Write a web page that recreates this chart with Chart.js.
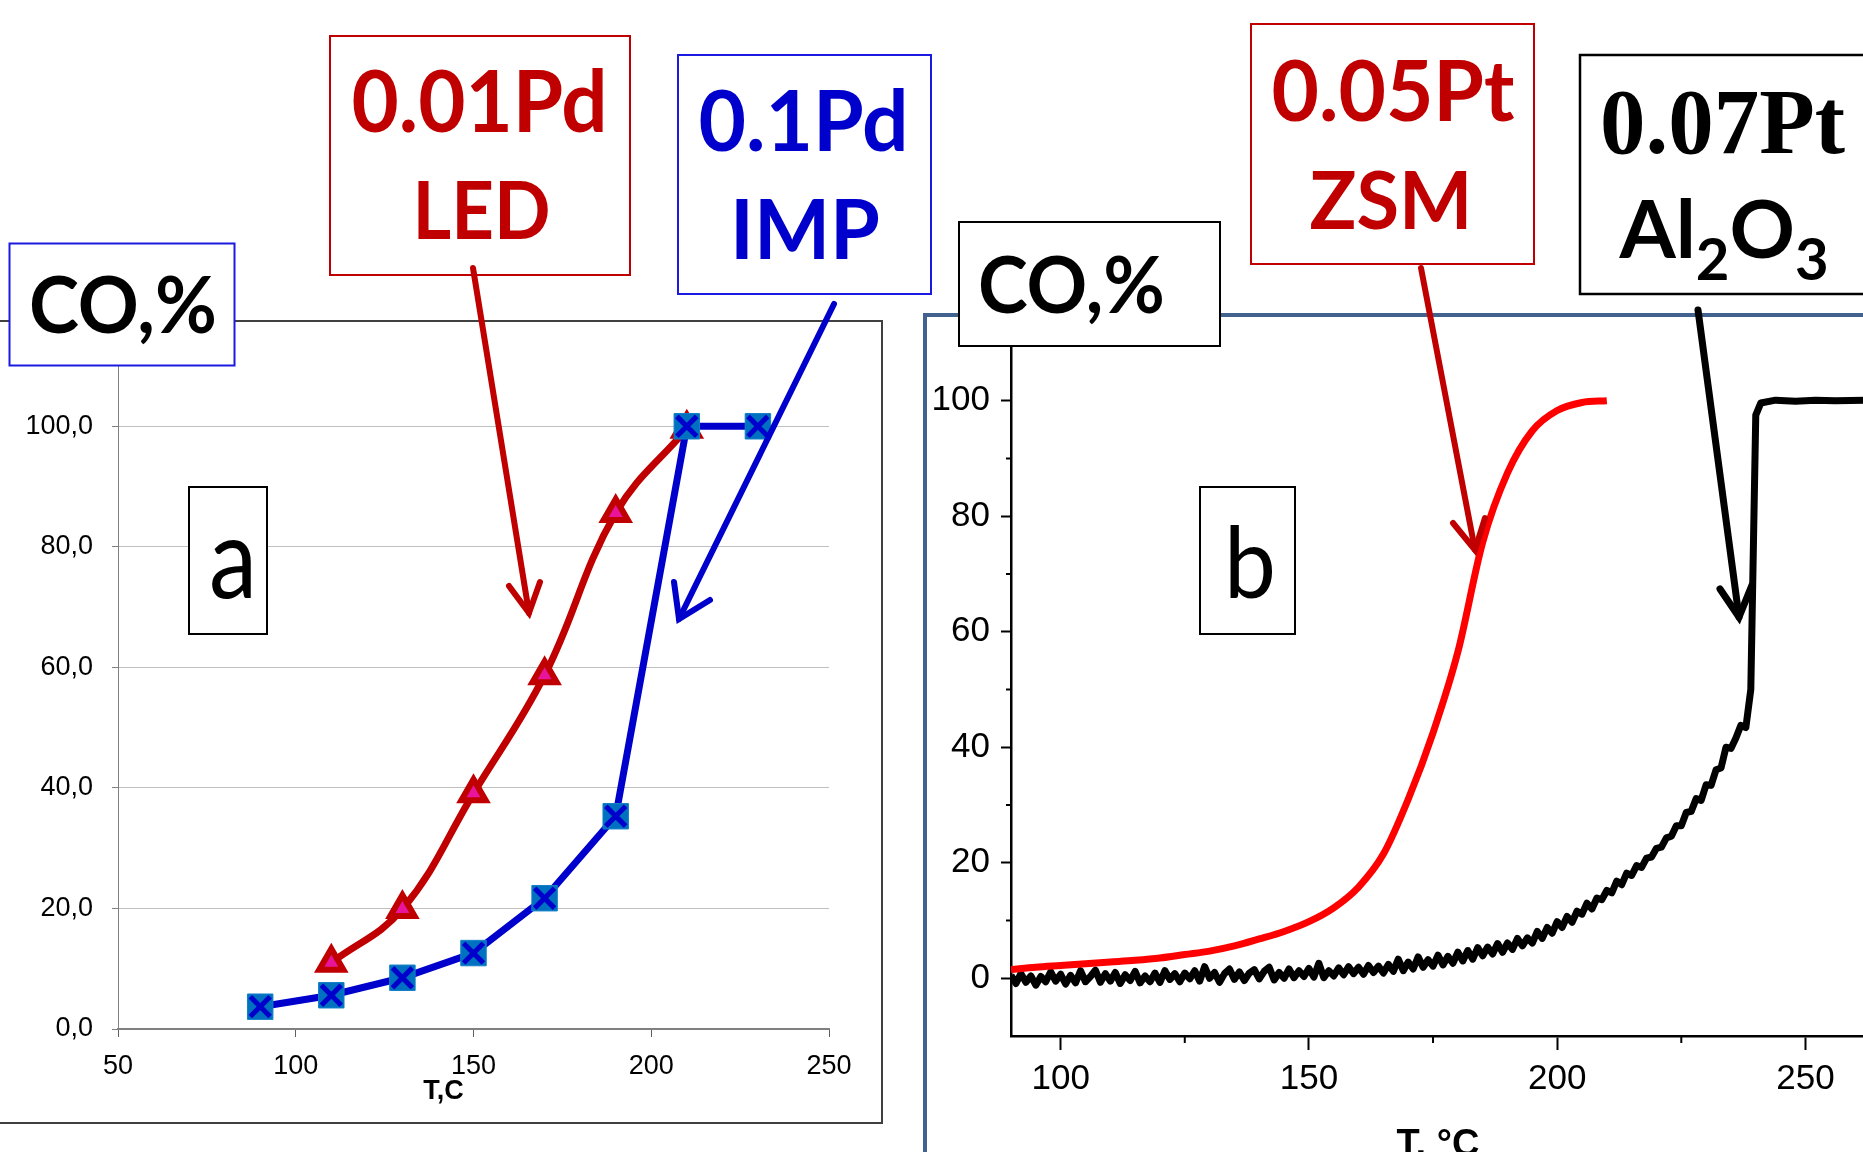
<!DOCTYPE html>
<html>
<head>
<meta charset="utf-8">
<script src="https://cdn.jsdelivr.net/npm/chart.js@4.4.0/dist/chart.umd.min.js"></script>
<style>
  html, body { margin: 0; padding: 0; background: #fff; overflow: hidden; }
  #page { position: relative; width: 1863px; height: 1152px; overflow: hidden; background: #fff; }
  #chartA { position: absolute; left: 0; top: 321px; }
  #chartB { position: absolute; left: 927px; top: 318px; }
  #notes { position: absolute; left: 0; top: 0; pointer-events: none; }
  #notes text { font-family: Lato, "Open Sans", sans-serif; font-weight: bold; }
</style>
</head>
<body>
<div id="page">
  <canvas id="chartA" width="882" height="802"></canvas>
  <canvas id="chartB" width="950" height="900"></canvas>

  <svg id="notes" width="1863" height="1152" xmlns="http://www.w3.org/2000/svg">
    <!-- panel frames -->
    <path d="M-5 321 H882 V1123 H-5" fill="none" stroke="#404040" stroke-width="2"/>
    <path d="M925 1170 V315 H1880" fill="none" stroke="#41618F" stroke-width="4"/>

    <!-- panel a labels -->
    <rect x="9.5" y="243.5" width="225" height="122" fill="#fff" stroke="#1A1AE0" stroke-width="2"/>
    <text x="123" y="333" font-size="78" fill="#000" text-anchor="middle" textLength="188" lengthAdjust="spacingAndGlyphs">CO,%</text>

    <rect x="330" y="36" width="300" height="239" fill="#fff" stroke="#C00000" stroke-width="2"/>
    <text x="479.5" y="132" font-size="86" fill="#C00000" text-anchor="middle" textLength="256" lengthAdjust="spacingAndGlyphs">0.01Pd</text>
    <text x="481.5" y="239" font-size="80" fill="#C00000" text-anchor="middle" textLength="138" lengthAdjust="spacingAndGlyphs">LED</text>

    <rect x="678" y="55" width="253" height="239" fill="#fff" stroke="#1A1AE0" stroke-width="2"/>
    <text x="803.5" y="151" font-size="85" fill="#0000CC" text-anchor="middle" textLength="210" lengthAdjust="spacingAndGlyphs">0.1Pd</text>
    <text x="805" y="259" font-size="82" fill="#0000CC" text-anchor="middle" textLength="150" lengthAdjust="spacingAndGlyphs">IMP</text>

    <rect x="189" y="487" width="78" height="147" fill="#fff" stroke="#000" stroke-width="2"/>
    <text x="233" y="598" font-size="112" fill="#000" style="font-weight:normal" text-anchor="middle" textLength="48" lengthAdjust="spacingAndGlyphs">a</text>

    <!-- panel b labels -->
    <rect x="959" y="222" width="261" height="124" fill="#fff" stroke="#000" stroke-width="2"/>
    <text x="1071.5" y="313" font-size="78" fill="#000" text-anchor="middle" textLength="187" lengthAdjust="spacingAndGlyphs">CO,%</text>

    <rect x="1251" y="24" width="283" height="240" fill="#fff" stroke="#C00000" stroke-width="2"/>
    <text x="1393" y="121" font-size="84" fill="#C00000" text-anchor="middle" textLength="243" lengthAdjust="spacingAndGlyphs">0.05Pt</text>
    <text x="1391" y="229" font-size="80" fill="#C00000" text-anchor="middle" textLength="163" lengthAdjust="spacingAndGlyphs">ZSM</text>

    <rect x="1580" y="55" width="300" height="239" fill="#fff" stroke="#000" stroke-width="2.5"/>
    <text x="1722.5" y="153" font-size="93" fill="#000" style="font-family:'Liberation Serif', serif" text-anchor="middle" textLength="245" lengthAdjust="spacingAndGlyphs">0.07Pt</text>
    <text x="1724" y="258" font-size="81" fill="#000" text-anchor="middle">Al<tspan font-size="58" dy="22">2</tspan><tspan font-size="81" dy="-22">O</tspan><tspan font-size="58" dy="22">3</tspan></text>

    <rect x="1200" y="487" width="95" height="147" fill="#fff" stroke="#000" stroke-width="2"/>
    <text x="1250" y="598" font-size="99" fill="#000" style="font-weight:normal" text-anchor="middle" textLength="52" lengthAdjust="spacingAndGlyphs">b</text>

    <!-- arrows -->
    <g fill="none" stroke-width="6" stroke-linecap="round">
      <line x1="473" y1="268" x2="529" y2="613" stroke="#C00000"/>
      <polyline points="509,586 529,613 540,582" stroke="#C00000"/>
      <line x1="834" y1="304" x2="679" y2="619" stroke="#0000CC"/>
      <polyline points="674,582 679,619 710,600" stroke="#0000CC"/>
      <line x1="1421" y1="268" x2="1475" y2="550" stroke="#C00000"/>
      <polyline points="1453,523 1475,550 1485,518" stroke="#C00000"/>
      <line x1="1698" y1="310" x2="1739" y2="617" stroke="#000" stroke-width="7"/>
      <polyline points="1720,589 1739,617 1752,585" stroke="#000" stroke-width="7"/>
    </g>
  </svg>
</div>

<script>
// panel a: Pd catalysts
var tempA = [90, 110, 130, 150, 170, 190, 210, 230];
var pd01Imp = [3.7, 5.6, 8.5, 12.6, 21.7, 35.3, 100, 100];
var tempLed = [110, 130, 150, 170, 190, 210];
var pd001Led = [11.0, 19.9, 39.1, 58.7, 85.6, 99.6];
var xTicksA = [50, 100, 150, 200, 250];
var yTicksA = [0, 20, 40, 60, 80, 100];

// panel b: Pt catalysts
var tempZsm = [90, 95, 100, 105, 110, 115, 120, 125, 130, 135, 140, 145, 150,
               155, 160, 165, 170, 175, 180, 185, 190, 195, 200, 205, 210];
var pt005Zsm = [1.5, 1.9, 2.2, 2.5, 2.8, 3.1, 3.5, 4.1, 4.7, 5.6, 6.8, 8.1, 9.8,
                12.2, 15.8, 21.5, 31.0, 42.5, 56.5, 75.5, 87.5, 94.8, 98.3, 99.7, 100];

var tempAl = [
  90, 91, 92, 93, 94, 95, 96, 97, 98, 99,
  100, 101, 102, 103, 104, 105, 106, 107, 108, 109,
  110, 111, 112, 113, 114, 115, 116, 117, 118, 119,
  120, 121, 122, 123, 124, 125, 126, 127, 128, 129,
  130, 131, 132, 133, 134, 135, 136, 137, 138, 139,
  140, 141, 142, 143, 144, 145, 146, 147, 148, 149,
  150, 151, 152, 153, 154, 155, 156, 157, 158, 159,
  160, 161, 162, 163, 164, 165, 166, 167, 168, 169,
  170, 171, 172, 173, 174, 175, 176, 177, 178, 179,
  180, 181, 182, 183, 184, 185, 186, 187, 188, 189,
  190, 191, 192, 193, 194, 195, 196, 197, 198, 199,
  200, 201, 202, 203, 204, 205, 206, 207, 208, 209,
  210, 211, 212, 213, 214, 215, 216, 217, 218, 219,
  220, 221, 222, 223, 224, 225, 226, 227, 228, 229,
  230, 231, 232, 233, 234, 235, 236, 237, 238, 239,
  240, 241, 244, 248, 252, 256, 262];
var pt007Al = [
  0.5, -0.9, 0.8, -0.7, 0.4, -1.2, 0.3, -0.6, 1.1, -0.5,
  0.7, -1.0, 0.5, -0.8, 1.3, -0.6, 0.3, 1.4, -0.7, 0.8,
  -0.5, 1.0, -0.9, 0.6, -0.4, 1.2, -0.8, 0.4, -0.6, 0.9,
  -0.7, 1.3, -0.2, 0.8, -0.6, 0.9, -0.1, 1.3, -0.5, 2.0,
  0.0, 1.0, -0.7, 0.8, 1.6, -0.2, 1.1, -0.4, 0.9, 1.5,
  -0.1, 1.2, 1.9, -0.3, 1.0, 0.0, 1.6, 0.1, 1.3, 0.3,
  1.7, 0.2, 2.6, 0.1, 1.3, 0.4, 1.8, 0.6, 2.0, 0.8,
  1.9, 0.7, 2.2, 1.0, 2.1, 0.9, 2.4, 1.2, 3.3, 1.3,
  2.8, 1.6, 3.7, 1.9, 3.2, 2.1, 4.0, 2.3, 3.8, 2.6,
  4.5, 3.0, 4.8, 3.3, 5.3, 3.9, 5.4, 4.2, 6.0, 4.5,
  6.1, 5.0, 6.9, 5.6, 7.0, 6.1, 8.1, 6.9, 8.8, 7.8,
  9.8, 8.8, 10.7, 9.7, 11.6, 11.1, 13.0, 12.0, 13.9, 13.6,
  15.2, 14.8, 16.8, 16.2, 18.2, 17.8, 19.5, 19.2, 20.8, 21.0,
  22.5, 22.7, 24.3, 24.6, 26.4, 26.4, 28.7, 28.9, 31.1, 30.8,
  33.5, 33.4, 36.1, 36.4, 40.0, 39.8, 41.6, 43.8, 43.4, 50.0,
  97.5, 99.6, 100.1, 99.9, 100.1, 100.0, 100.1];

var xTicksB = [100, 150, 200, 250];
var xMinorB = [125, 175, 225];
var yTicksB = [0, 20, 40, 60, 80, 100];
var yMinorB = [10, 30, 50, 70, 90];

function pts(xs, ys) {
  return xs.map(function (x, i) { return { x: x, y: ys[i] }; });
}
function fixTicks(list) {
  return function (scale) { scale.ticks = list.map(function (v) { return { value: v }; }); };
}

var sansA = 'Liberation Sans, Arial, sans-serif';

/*----------------------------------- a ------------------------------------*/

var ctxA = document.getElementById('chartA').getContext('2d');
var chartA = new Chart(ctxA, {
  type: 'line',
  data: {
    datasets: [
      {
        data: pts(tempA, pd01Imp),
        showLine: false,
        pointStyle: 'crossRot',
        pointRadius: 14,
        pointBorderColor: '#0000CC',
        pointBorderWidth: 5,
        clip: false,
        order: 0
      },
      {
        data: pts(tempA, pd01Imp),
        borderColor: '#0000CC',
        borderWidth: 7,
        tension: 0,
        pointStyle: 'rect',
        pointRadius: 18,
        pointBackgroundColor: '#0070C0',
        pointBorderColor: '#1380C8',
        pointBorderWidth: 1,
        clip: false,
        order: 1
      },
      {
        data: pts(tempLed, pd001Led),
        borderColor: '#C00000',
        borderWidth: 7,
        tension: 0.4,
        pointStyle: 'triangle',
        pointRadius: 14,
        pointBackgroundColor: '#E8149C',
        pointBorderColor: '#C00000',
        pointBorderWidth: 6,
        clip: false,
        order: 2
      }
    ]
  },
  options: {
    responsive: false,
    animation: false,
    layout: { padding: { top: 45, right: 53, left: 0, bottom: 0 } },
    plugins: { legend: { display: false }, tooltip: { enabled: false } },
    scales: {
      x: {
        type: 'linear',
        min: 50,
        max: 250,
        afterBuildTicks: fixTicks(xTicksA),
        afterFit: function (s) { s.height = 94; },
        grid: { drawOnChartArea: false, tickLength: 8, tickColor: '#606060' },
        border: { color: '#808080', width: 2 },
        ticks: { color: '#000', font: { family: sansA, size: 27 }, padding: 13, maxRotation: 0 },
        title: {
          display: true,
          text: 'T,C        ',
          color: '#000',
          font: { family: sansA, size: 27, weight: 'bold' },
          padding: { top: 0, bottom: 15 }
        }
      },
      y: {
        min: 0,
        max: 110,
        afterBuildTicks: fixTicks(yTicksA),
        afterFit: function (s) { s.width = 118; },
        grid: { color: '#C0C0C0', lineWidth: 1, tickLength: 6, tickColor: '#808080' },
        border: { color: '#808080', width: 1 },
        ticks: {
          color: '#000',
          font: { family: sansA, size: 27 },
          padding: 19,
          callback: function (v) { return v.toFixed(1).replace('.', ','); }
        }
      }
    }
  }
});

/*----------------------------------- b ------------------------------------*/

var minorTicks = {
  id: 'minorTicks',
  afterDraw: function (chart) {
    var c = chart.ctx, area = chart.chartArea;
    var x = chart.scales.x, y = chart.scales.y;
    c.save();
    c.strokeStyle = '#000';
    c.lineWidth = 2;
    xMinorB.forEach(function (v) {
      var px = x.getPixelForValue(v);
      c.beginPath(); c.moveTo(px, area.bottom); c.lineTo(px, area.bottom + 7); c.stroke();
    });
    yMinorB.forEach(function (v) {
      var py = y.getPixelForValue(v);
      c.beginPath(); c.moveTo(area.left, py); c.lineTo(area.left - 5, py); c.stroke();
    });
    c.restore();
  }
};

var ctxB = document.getElementById('chartB').getContext('2d');
var chartB = new Chart(ctxB, {
  type: 'line',
  data: {
    datasets: [
      {
        data: pts(tempZsm, pt005Zsm),
        borderColor: '#FF0000',
        borderWidth: 7,
        pointRadius: 0,
        cubicInterpolationMode: 'monotone',
        order: 0
      },
      {
        data: pts(tempAl, pt007Al),
        borderColor: '#000000',
        borderWidth: 7,
        pointRadius: 0,
        tension: 0,
        borderJoinStyle: 'round',
        order: 1
      }
    ]
  },
  options: {
    responsive: false,
    animation: false,
    layout: { padding: { top: 25, right: 12, left: 0, bottom: 0 } },
    plugins: { legend: { display: false }, tooltip: { enabled: false } },
    scales: {
      x: {
        type: 'linear',
        min: 90,
        max: 262,
        afterBuildTicks: fixTicks(xTicksB),
        afterFit: function (s) { s.height = 182; },
        grid: { drawOnChartArea: false, tickLength: 14, tickColor: '#000', tickWidth: 2 },
        border: { color: '#000', width: 2.5 },
        ticks: { color: '#000', font: { family: sansA, size: 35 }, padding: 8, maxRotation: 0 },
        title: {
          display: true,
          text: 'T, °C',
          color: '#000',
          font: { family: sansA, size: 38, weight: 'bold' },
          padding: { top: 0, bottom: 50 }
        }
      },
      y: {
        min: -10,
        max: 110,
        afterBuildTicks: fixTicks(yTicksB),
        afterFit: function (s) { s.width = 84; s.paddingTop = 0; s.paddingBottom = 0; },
        grid: { drawOnChartArea: false, tickLength: 10, tickColor: '#000', tickWidth: 2 },
        border: { color: '#000', width: 2.5 },
        ticks: { color: '#000', font: { family: sansA, size: 35 }, padding: 11 }
      }
    }
  },
  plugins: [minorTicks]
});
</script>
</body>
</html>
